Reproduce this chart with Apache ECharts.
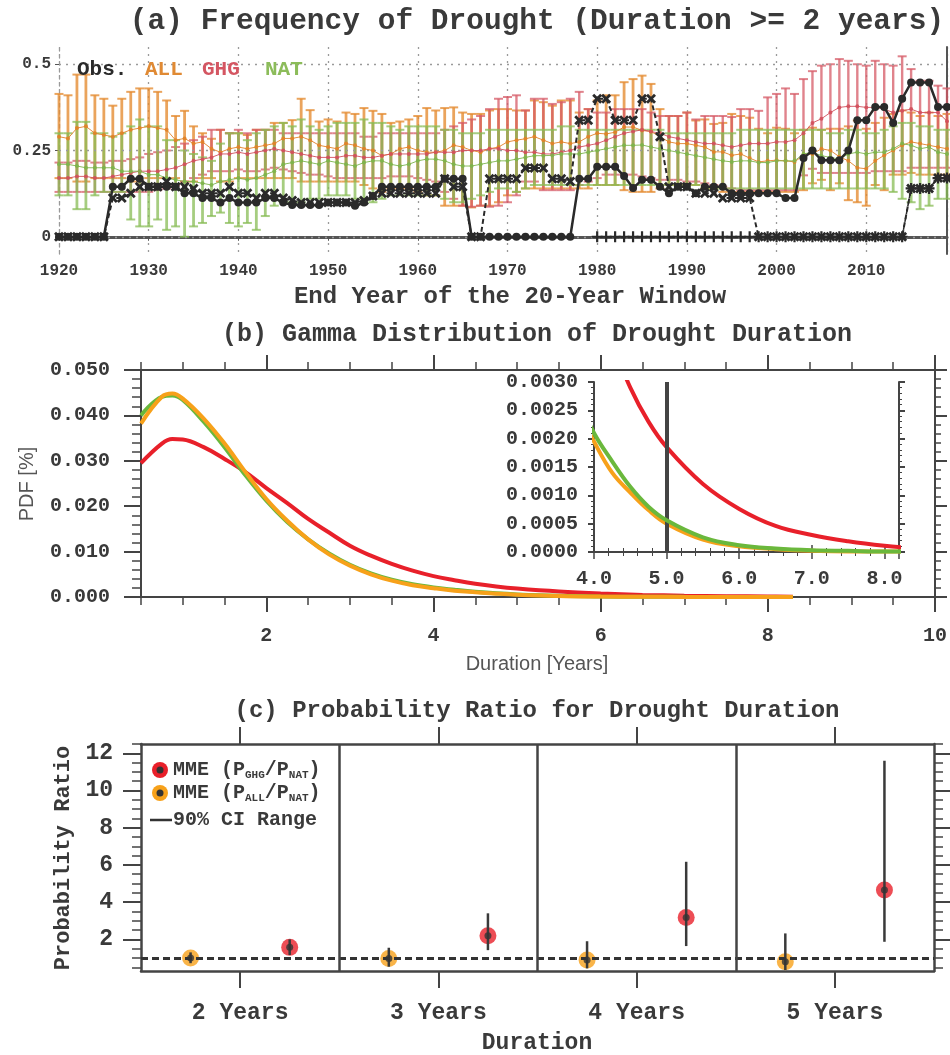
<!DOCTYPE html>
<html><head><meta charset="utf-8">
<script src="https://cdn.jsdelivr.net/npm/echarts@6/dist/echarts.min.js"></script>
<style>html,body{margin:0;padding:0;background:#fff}#c{width:950px;height:1055px}</style>
</head><body><div id="c"></div>
<script>
// ---------- Panel (a) data: years 1920..2019 ----------
const years = Array.from({length: 100}, (_, i) => 1920 + i);
const allMean = [
0.29,0.285,0.315,0.32,0.30,0.295,0.29,0.30,0.31,0.315,
0.32,0.315,0.31,0.28,0.285,0.27,0.275,0.255,0.245,0.255,
0.26,0.255,0.26,0.265,0.27,0.285,0.285,0.29,0.28,0.265,
0.26,0.255,0.27,0.265,0.255,0.25,0.235,0.24,0.255,0.26,
0.25,0.245,0.245,0.25,0.265,0.26,0.25,0.245,0.255,0.26,
0.275,0.28,0.284,0.29,0.28,0.27,0.275,0.27,0.275,0.29,
0.30,0.298,0.303,0.318,0.318,0.308,0.305,0.29,0.275,0.27,
0.27,0.265,0.26,0.246,0.246,0.236,0.24,0.228,0.217,0.22,
0.222,0.22,0.217,0.236,0.24,0.255,0.25,0.232,0.22,0.20,
0.197,0.22,0.236,0.25,0.265,0.275,0.27,0.265,0.26,0.255];
const allHi = [
0.414,0.41,0.47,0.47,0.41,0.40,0.38,0.40,0.42,0.43,
0.43,0.42,0.395,0.35,0.365,0.32,0.30,0.284,0.31,0.30,
0.30,0.295,0.31,0.31,0.33,0.33,0.338,0.40,0.367,0.334,
0.34,0.334,0.36,0.356,0.373,0.365,0.356,0.33,0.334,0.34,
0.35,0.373,0.366,0.373,0.375,0.36,0.356,0.356,0.366,0.37,
0.37,0.366,0.366,0.395,0.39,0.38,0.395,0.395,0.36,0.37,
0.395,0.41,0.41,0.448,0.457,0.467,0.443,0.37,0.35,0.35,
0.36,0.337,0.34,0.327,0.33,0.356,0.35,0.345,0.313,0.30,
0.316,0.313,0.30,0.31,0.316,0.31,0.313,0.313,0.32,0.337,
0.313,0.33,0.345,0.356,0.366,0.36,0.35,0.36,0.35,0.356];
const allLo = [
0.17,0.17,0.16,0.16,0.17,0.17,0.17,0.17,0.16,0.16,
0.17,0.17,0.17,0.17,0.16,0.16,0.17,0.17,0.16,0.16,
0.17,0.17,0.17,0.17,0.17,0.17,0.17,0.16,0.16,0.16,
0.16,0.16,0.16,0.16,0.15,0.14,0.13,0.14,0.14,0.14,
0.13,0.12,0.12,0.09,0.09,0.09,0.085,0.09,0.09,0.10,
0.12,0.13,0.14,0.14,0.14,0.14,0.14,0.14,0.14,0.14,
0.15,0.15,0.15,0.135,0.13,0.13,0.13,0.14,0.15,0.15,
0.15,0.15,0.14,0.14,0.13,0.13,0.13,0.13,0.13,0.13,
0.13,0.13,0.13,0.135,0.155,0.165,0.135,0.155,0.106,0.10,
0.09,0.15,0.135,0.18,0.18,0.185,0.18,0.18,0.18,0.18];
const ghgMean = [
0.17,0.17,0.175,0.175,0.17,0.17,0.175,0.18,0.185,0.19,
0.19,0.19,0.195,0.20,0.21,0.22,0.225,0.23,0.24,0.24,
0.245,0.24,0.245,0.25,0.255,0.25,0.245,0.24,0.235,0.23,
0.23,0.23,0.235,0.235,0.23,0.23,0.235,0.24,0.24,0.24,
0.24,0.24,0.245,0.245,0.245,0.25,0.25,0.25,0.255,0.255,
0.25,0.25,0.245,0.245,0.24,0.24,0.245,0.25,0.26,0.265,
0.27,0.28,0.29,0.30,0.305,0.31,0.305,0.30,0.29,0.285,
0.28,0.275,0.27,0.27,0.265,0.26,0.265,0.27,0.27,0.27,
0.275,0.275,0.28,0.30,0.33,0.342,0.36,0.375,0.378,0.378,
0.375,0.375,0.37,0.36,0.365,0.37,0.36,0.36,0.36,0.335];
const ghgHi = [
0.215,0.215,0.22,0.22,0.215,0.215,0.22,0.22,0.225,0.23,
0.24,0.245,0.25,0.26,0.27,0.28,0.29,0.31,0.31,0.30,
0.31,0.30,0.31,0.31,0.31,0.30,0.30,0.30,0.30,0.30,
0.30,0.30,0.30,0.30,0.29,0.29,0.30,0.30,0.30,0.30,
0.30,0.30,0.30,0.31,0.32,0.33,0.34,0.35,0.37,0.40,
0.405,0.41,0.366,0.40,0.40,0.385,0.39,0.40,0.42,0.37,
0.36,0.36,0.37,0.37,0.37,0.37,0.36,0.35,0.35,0.35,
0.36,0.34,0.35,0.35,0.35,0.347,0.37,0.37,0.365,0.404,
0.414,0.43,0.414,0.457,0.48,0.496,0.50,0.515,0.51,0.50,
0.496,0.51,0.50,0.496,0.523,0.486,0.452,0.452,0.438,0.43];
const ghgLo = [
0.13,0.13,0.13,0.13,0.13,0.13,0.13,0.13,0.13,0.13,
0.13,0.135,0.14,0.15,0.16,0.17,0.18,0.19,0.19,0.19,
0.195,0.19,0.19,0.195,0.20,0.195,0.19,0.185,0.18,0.18,
0.175,0.17,0.17,0.17,0.17,0.17,0.17,0.175,0.175,0.175,
0.17,0.165,0.16,0.13,0.11,0.09,0.087,0.09,0.087,0.09,
0.10,0.12,0.16,0.16,0.135,0.135,0.135,0.135,0.15,0.16,
0.17,0.18,0.18,0.18,0.18,0.175,0.17,0.165,0.165,0.165,
0.16,0.16,0.155,0.15,0.145,0.14,0.135,0.135,0.135,0.135,
0.135,0.135,0.135,0.178,0.197,0.185,0.185,0.185,0.185,0.185,
0.185,0.19,0.19,0.19,0.19,0.20,0.20,0.20,0.20,0.20];
const natMean = [
0.21,0.21,0.205,0.20,0.20,0.20,0.20,0.19,0.19,0.19,
0.18,0.18,0.17,0.165,0.16,0.16,0.155,0.15,0.16,0.165,
0.17,0.165,0.17,0.18,0.19,0.21,0.215,0.22,0.215,0.21,
0.22,0.215,0.21,0.205,0.215,0.22,0.22,0.21,0.205,0.21,
0.22,0.225,0.225,0.22,0.21,0.205,0.205,0.21,0.215,0.22,
0.22,0.225,0.23,0.235,0.235,0.236,0.24,0.24,0.24,0.245,
0.25,0.255,0.26,0.265,0.265,0.266,0.26,0.255,0.25,0.245,
0.24,0.235,0.23,0.225,0.22,0.217,0.22,0.22,0.215,0.215,
0.22,0.22,0.22,0.24,0.245,0.235,0.23,0.225,0.24,0.245,
0.24,0.245,0.245,0.255,0.27,0.265,0.255,0.26,0.245,0.24];
const natHi = [
0.30,0.30,0.333,0.333,0.30,0.30,0.29,0.30,0.32,0.34,
0.32,0.32,0.28,0.28,0.25,0.24,0.23,0.22,0.27,0.30,
0.30,0.28,0.30,0.31,0.32,0.33,0.32,0.34,0.32,0.31,
0.32,0.33,0.33,0.33,0.34,0.33,0.33,0.32,0.31,0.32,
0.32,0.32,0.32,0.31,0.31,0.30,0.30,0.30,0.31,0.31,
0.31,0.31,0.31,0.31,0.31,0.31,0.32,0.32,0.31,0.31,
0.31,0.31,0.31,0.31,0.31,0.31,0.31,0.31,0.30,0.30,
0.30,0.30,0.30,0.30,0.30,0.30,0.31,0.31,0.31,0.31,
0.31,0.31,0.31,0.31,0.31,0.31,0.30,0.30,0.31,0.31,
0.30,0.30,0.31,0.32,0.33,0.33,0.32,0.32,0.31,0.31];
const natLo = [
0.12,0.12,0.08,0.08,0.12,0.13,0.13,0.13,0.05,0.03,
0.03,0.05,0.02,0.03,0.00,0.03,0.04,0.06,0.07,0.04,
0.03,0.04,0.02,0.06,0.09,0.10,0.10,0.10,0.11,0.11,
0.12,0.12,0.12,0.11,0.11,0.10,0.11,0.12,0.12,0.12,
0.12,0.12,0.12,0.11,0.10,0.10,0.11,0.12,0.13,0.14,
0.14,0.13,0.14,0.15,0.15,0.15,0.15,0.15,0.15,0.15,
0.15,0.15,0.15,0.15,0.15,0.15,0.15,0.15,0.15,0.15,
0.15,0.15,0.14,0.14,0.14,0.14,0.14,0.14,0.14,0.14,
0.14,0.14,0.14,0.14,0.14,0.14,0.14,0.14,0.14,0.14,
0.14,0.14,0.14,0.13,0.11,0.10,0.08,0.09,0.11,0.11];
const obsCircle = [
0,0,0,0,0,0,0.145,0.145,0.168,0.168,
0.145,0.145,0.145,0.145,0.126,0.126,0.112,0.112,0.099,0.112,
0.099,0.099,0.099,0.112,0.112,0.099,0.092,0.092,0.092,0.092,
0.099,0.099,0.099,0.09,0.099,0.118,0.145,0.145,0.145,0.145,
0.145,0.145,0.145,0.168,0.168,0.168,0,0,0,0,
0,0,0,0,0,0,0,0,0.168,0.168,
0.203,0.203,0.203,0.176,0.141,0.165,0.165,0.145,0.126,0.145,
0.145,0.126,0.145,0.145,0.145,0.126,0.126,0.126,0.126,0.126,
0.126,0.112,0.112,0.228,0.25,0.222,0.222,0.222,0.25,0.338,
0.338,0.376,0.376,0.33,0.40,0.447,0.447,0.447,0.376,0.376];
const obsCross = [
0,0,0,0,0,0,0.112,0.112,0.126,0.145,
0.145,0.145,0.16,0.145,0.145,0.14,0.126,0.126,0.126,0.145,
0.126,0.126,0.112,0.126,0.126,0.112,0.105,0.099,0.099,0.099,
0.099,0.099,0.099,0.099,0.105,0.118,0.126,0.126,0.126,0.126,
0.126,0.126,0.126,0.168,0.145,0.145,0,0,0.168,0.168,
0.168,0.168,0.199,0.199,0.199,0.168,0.168,0.16,0.338,0.338,
0.40,0.40,0.338,0.338,0.338,0.40,0.40,0.29,0.145,0.145,
0.145,0.126,0.126,0.126,0.112,0.112,0.112,0.112,0,0,
0,0,0,0,0,0,0,0,0,0,
0,0,0,0,0,0.14,0.14,0.14,0.17,0.17];
const plusYears = [1980,1981,1982,1983,1984,1985,1986,1987,1988,1989,1990,1991,1992,1993,1994,1995,1996,1997,1998,1999,2000,2001,2002,2003,2004,2005,2006,2007,2008,2009,2010,2011,2012,2013,2014,2015,2016,2017,2018,2019];
const obsPlus = [0,0,0,0,0,0,0,0,0,0,0,0,0,0,0,0,0,0,0,0,0,0,0,0,0,0,0,0,0,0,0,0,0,0,0,0.14,0.14,0.14,0.17,0.17];
const aYTicks = [0, 0.25, 0.5];
const aYTickLabels = ['0', '0.25', '0.5'];

// ---------- Panel (b) data ----------
const pdfX   = [0.5,0.75,0.875,1,1.25,1.5,1.75,2,2.25,2.5,2.75,3,3.25,3.5,3.75,4,4.25,4.5,4.75,5,5.5,6,6.5,7,7.5,8,8.3];
const pdfGHG = [0.0295,0.0338,0.0348,0.0347,0.0330,0.0304,0.0275,0.0240,0.0207,0.0172,0.0142,0.0113,0.0091,0.0073,0.0058,0.0046,0.0037,0.0029,0.0023,0.00185,0.0012,0.00076,0.00046,0.0003,0.00019,0.00011,0.00008];
const pdfALL = [0.0382,0.0441,0.0448,0.0437,0.0393,0.0338,0.0275,0.0216,0.0168,0.0127,0.0094,0.0069,0.0050,0.0036,0.0026,0.00195,0.0014,0.00105,0.00074,0.0005,0.00022,0.0001,0.00005,0.00002,0.00001,0.00001,0.00001];
const pdfNAT = [0.0400,0.0441,0.0444,0.0434,0.0386,0.0330,0.0268,0.0212,0.0165,0.0127,0.0096,0.0071,0.0052,0.0038,0.0028,0.0021,0.0016,0.00115,0.0008,0.00056,0.00026,0.00012,0.00006,0.00003,0.00002,0.00001,0.00001];
const insetMarkX = 5;

// ---------- Panel (c) data ----------
const durCats = ['2 Years','3 Years','4 Years','5 Years'];
const prAllMid = [1.0, 0.97, 0.89, 0.80];
const prAllLo  = [0.72, 0.53, 0.44, 0.35];
const prAllHi  = [1.30, 1.55, 1.90, 2.32];
const prGhgMid = [1.57, 2.20, 3.18, 4.65];
const prGhgLo  = [1.16, 1.42, 1.64, 1.87];
const prGhgHi  = [2.00, 3.40, 6.17, 11.6];
const cYMajor = [2,4,6,8,10,12];
const cYMinor = [0.5,1,1.5,2.5,3,3.5,4.5,5,5.5,6.5,7,7.5,8.5,9,9.5,10.5,11,11.5,12.5];

// ---------- styling ----------
const MONO = '"Liberation Mono", "DejaVu Sans Mono", monospace';
const SANS = '"Liberation Sans", Arial, sans-serif';
const INK = '#3a3a3a';
const AX = '#444';
const C_ALL = 'rgba(228,138,48,0.78)', C_GHG = 'rgba(214,90,102,0.75)', C_NAT = 'rgba(136,188,86,0.75)';
const L_RED = '#e8202a', L_ORG = '#f7a11a', L_GRN = '#6ab83c';

function near(a, b) { return Math.abs(a - b) < 1e-6; }

function errBars(lo, hi, color, z, lw) {
  return {
    type: 'custom', xAxisIndex: 0, yAxisIndex: 0, z: z, silent: true,
    data: years.map((y, i) => [y, lo[i], hi[i]]),
    encode: {x: 0, y: [1, 2]},
    renderItem: (params, api) => {
      const x = api.value(0);
      const p1 = api.coord([x, api.value(1)]);
      const p2 = api.coord([x, api.value(2)]);
      const w = 4.5;
      return {type: 'group', children: [
        {type: 'line', shape: {x1: p1[0], y1: p1[1], x2: p2[0], y2: p2[1]}, style: {stroke: color, lineWidth: lw}},
        {type: 'line', shape: {x1: p1[0]-w, y1: p1[1], x2: p1[0]+w, y2: p1[1]}, style: {stroke: color, lineWidth: 2}},
        {type: 'line', shape: {x1: p2[0]-w, y1: p2[1], x2: p2[0]+w, y2: p2[1]}, style: {stroke: color, lineWidth: 2}}
      ]};
    }
  };
}
function meanLine(vals, color, z) {
  return {type: 'line', xAxisIndex: 0, yAxisIndex: 0, z: z, silent: true,
    data: years.map((y, i) => [y, vals[i]]),
    symbol: 'circle', symbolSize: 4, itemStyle: {color: color},
    lineStyle: {color: color, width: 1}};
}
const X_PATH = 'path://M2,0L5,3L8,0L10,2L7,5L10,8L8,10L5,7L2,10L0,8L3,5L0,2Z';
const PLUS_PATH = 'path://M4,0H6V4H10V6H6V10H4V6H0V4H4Z';

function vTickAxis(grid, pos, opts) {
  return Object.assign({gridIndex: grid, position: pos, type: 'value',
    axisLine: {show: false}, axisLabel: {show: false}, splitLine: {show: false}}, opts);
}

const xAxes = [
  {gridIndex: 0, type: 'value', min: 1920, max: 2019, interval: 10, position: 'bottom',
   axisLine: {lineStyle: {color: '#555', width: 3}},
   axisTick: {show: true, length: 4, lineStyle: {color: '#555'}},
   axisLabel: {color: INK, fontFamily: MONO, fontWeight: 'bold', fontSize: 16, margin: 9,
     formatter: v => (v % 10 === 0 ? String(v) : '')},
   splitLine: {show: true, lineStyle: {color: '#9a9a9a', type: [2, 5], width: 1.3}}},
  {gridIndex: 0, type: 'value', min: 1920, max: 2019, position: 'top',
   axisLine: {lineStyle: {color: '#555', width: 2}}, axisTick: {show: false}, axisLabel: {show: false}, splitLine: {show: false}},
  {gridIndex: 1, type: 'value', min: 0.5, max: 10, interval: 0.5, position: 'bottom',
   axisLine: {lineStyle: {color: AX, width: 2}},
   axisTick: {length: 8, lineStyle: {color: AX, width: 1.5}},
   axisLabel: {color: INK, fontFamily: MONO, fontWeight: 'bold', fontSize: 20, margin: 29,
     formatter: v => (near(v % 2, 0) ? String(Math.round(v)) : '')},
   splitLine: {show: false}},
  vTickAxis(1, 'bottom', {min: 0.5, max: 10, axisTick: {length: 15, customValues: [2,4,6,8,10], lineStyle: {color: AX, width: 2}}}),
  {gridIndex: 1, type: 'value', min: 0.5, max: 10, interval: 0.5, position: 'top',
   axisLine: {lineStyle: {color: AX, width: 2}}, axisTick: {length: 8, lineStyle: {color: AX, width: 1.5}},
   axisLabel: {show: false}, splitLine: {show: false}},
  vTickAxis(1, 'top', {min: 0.5, max: 10, axisTick: {length: 15, customValues: [2,4,6,8,10], lineStyle: {color: AX, width: 2}}}),
  {gridIndex: 2, type: 'value', min: 4, max: 8.2, interval: 1, position: 'bottom',
   axisLine: {lineStyle: {color: AX, width: 2}},
   axisTick: {inside: true, length: 7, lineStyle: {color: AX, width: 1.5}},
   minorTick: {show: true, splitNumber: 5, length: 4, lineStyle: {color: AX}},
   axisLabel: {color: INK, fontFamily: MONO, fontWeight: 'bold', fontSize: 20, margin: 17,
     formatter: v => (near(v, Math.round(v)) ? v.toFixed(1) : '')},
   splitLine: {show: false}},
  {gridIndex: 2, type: 'value', min: 4, max: 8.2, interval: 1, position: 'top',
   axisLine: {lineStyle: {color: AX, width: 2}},
   axisTick: {inside: true, length: 7, lineStyle: {color: AX, width: 1.5}},
   minorTick: {show: true, splitNumber: 5, length: 4, lineStyle: {color: AX}},
   axisLabel: {show: false}, splitLine: {show: false}},
  {gridIndex: 3, type: 'value', min: 0.5, max: 4.5, position: 'bottom',
   axisLine: {lineStyle: {color: AX, width: 2.5}},
   axisTick: {length: 17, customValues: [1,2,3,4], lineStyle: {color: AX, width: 2}},
   axisLabel: {customValues: [1,2,3,4], color: INK, fontFamily: MONO, fontWeight: 'bold', fontSize: 23, margin: 31,
     formatter: v => durCats[Math.round(v) - 1] || ''},
   splitLine: {show: false}},
  {gridIndex: 3, type: 'value', min: 0.5, max: 4.5, position: 'top',
   axisLine: {lineStyle: {color: AX, width: 2.5}},
   axisTick: {length: 17, customValues: [1,2,3,4], lineStyle: {color: AX, width: 2}},
   axisLabel: {show: false}, splitLine: {show: false}}
];

const yAxes = [
  {gridIndex: 0, type: 'value', min: -0.05, max: 0.55, position: 'left',
   axisLine: {show: true, lineStyle: {color: '#9a9a9a', type: [2, 5], width: 1.3}},
   axisTick: {show: true, customValues: aYTicks, length: 4, lineStyle: {color: '#555'}},
   axisLabel: {customValues: aYTicks, color: INK, fontFamily: MONO, fontWeight: 'bold', fontSize: 16, margin: 8,
     formatter: v => { for (let i = 0; i < aYTicks.length; i++) if (near(v, aYTicks[i])) return aYTickLabels[i]; return ''; }},
   splitLine: {show: false}},
  {gridIndex: 0, type: 'value', min: -0.05, max: 0.55, position: 'right',
   axisLine: {lineStyle: {color: '#555', width: 2}}, axisTick: {show: false}, axisLabel: {show: false}, splitLine: {show: false}},
  {gridIndex: 1, type: 'value', min: 0, max: 0.05, interval: 0.01, position: 'left',
   axisLine: {lineStyle: {color: AX, width: 2}},
   axisTick: {length: 17, lineStyle: {color: AX, width: 2}},
   minorTick: {show: true, splitNumber: 5, length: 9, lineStyle: {color: AX, width: 1.5}},
   axisLabel: {color: INK, fontFamily: MONO, fontWeight: 'bold', fontSize: 20, margin: 31, formatter: v => v.toFixed(3)},
   splitLine: {show: false}},
  {gridIndex: 1, type: 'value', min: 0, max: 0.05, interval: 0.01, position: 'right',
   axisLine: {lineStyle: {color: AX, width: 2}},
   axisTick: {length: 12, lineStyle: {color: AX, width: 2}},
   minorTick: {show: true, splitNumber: 5, length: 6, lineStyle: {color: AX, width: 1.5}},
   axisLabel: {show: false}, splitLine: {show: false}},
  {gridIndex: 2, type: 'value', min: 0, max: 0.003, interval: 0.0005, position: 'left',
   axisLine: {lineStyle: {color: AX, width: 2}},
   axisTick: {length: 6, lineStyle: {color: AX, width: 2}},
   minorTick: {show: true, splitNumber: 5, length: 3, lineStyle: {color: AX}},
   axisLabel: {color: INK, fontFamily: MONO, fontWeight: 'bold', fontSize: 20, margin: 16, formatter: v => v.toFixed(4)},
   splitLine: {show: false}},
  {gridIndex: 2, type: 'value', min: 0, max: 0.003, interval: 0.0005, position: 'right',
   axisLine: {lineStyle: {color: AX, width: 2}},
   axisTick: {length: 6, lineStyle: {color: AX, width: 2}},
   minorTick: {show: true, splitNumber: 5, length: 3, lineStyle: {color: AX}},
   axisLabel: {show: false}, splitLine: {show: false}},
  {gridIndex: 3, type: 'value', min: 0.3, max: 12.5, position: 'left',
   axisLine: {lineStyle: {color: AX, width: 2.5}},
   axisTick: {length: 18, customValues: cYMajor, lineStyle: {color: AX, width: 2}},
   axisLabel: {customValues: cYMajor, color: INK, fontFamily: MONO, fontWeight: 'bold', fontSize: 23, margin: 28},
   splitLine: {show: false}},
  vTickAxis(3, 'left', {min: 0.3, max: 12.5, axisTick: {length: 9, customValues: cYMinor, lineStyle: {color: AX, width: 1.5}}}),
  {gridIndex: 3, type: 'value', min: 0.3, max: 12.5, position: 'right',
   axisLine: {lineStyle: {color: AX, width: 2.5}},
   axisTick: {length: 18, customValues: cYMajor, lineStyle: {color: AX, width: 2}},
   axisLabel: {show: false}, splitLine: {show: false}},
  vTickAxis(3, 'right', {min: 0.3, max: 12.5, axisTick: {length: 9, customValues: cYMinor, lineStyle: {color: AX, width: 1.5}}})
];

function pdfLine(vals, color, xi, yi, z, extra) {
  return Object.assign({type: 'line', xAxisIndex: xi, yAxisIndex: yi, z: z, silent: true,
    data: pdfX.map((x, i) => [x, vals[i]]), symbol: 'none', smooth: 0.4,
    lineStyle: {color: color, width: 4}, clip: true}, extra || {});
}

const series = [
  errBars(allLo, allHi, C_ALL, 2, 2.8),
  errBars(ghgLo, ghgHi, C_GHG, 3, 2.4),
  errBars(natLo, natHi, C_NAT, 4, 2.8),
  meanLine(allMean, 'rgba(225,130,40,0.9)', 5),
  meanLine(ghgMean, 'rgba(210,80,92,0.9)', 5),
  meanLine(natMean, 'rgba(125,180,75,0.9)', 5),
  {type: 'line', xAxisIndex: 0, yAxisIndex: 0, z: 1, silent: true, data: [], symbol: 'none',
   markLine: {silent: true, symbol: 'none', label: {show: false},
     lineStyle: {color: '#9a9a9a', type: [2, 5], width: 1.3},
     data: aYTicks.map(v => ({yAxis: v}))}},
  {type: 'line', xAxisIndex: 0, yAxisIndex: 0, z: 8, silent: true,
   data: years.map((y, i) => [y, obsCross[i]]),
   symbol: X_PATH, symbolSize: 10, itemStyle: {color: '#2a2a2a'},
   lineStyle: {color: '#2a2a2a', width: 2, type: [5, 3]}},
  {type: 'line', xAxisIndex: 0, yAxisIndex: 0, z: 8, silent: true,
   data: plusYears.map((y, i) => [y, obsPlus[i]]),
   symbol: PLUS_PATH, symbolSize: 11, itemStyle: {color: '#2a2a2a'},
   lineStyle: {color: '#2a2a2a', width: 1.5, type: [5, 3]}},
  {type: 'line', xAxisIndex: 0, yAxisIndex: 0, z: 9, silent: true,
   data: years.map((y, i) => [y, obsCircle[i]]),
   symbol: 'circle', symbolSize: 8, itemStyle: {color: '#2a2a2a'},
   lineStyle: {color: '#2a2a2a', width: 2.5}},

  pdfLine(pdfGHG, L_RED, 2, 2, 3),
  pdfLine(pdfNAT, L_GRN, 2, 2, 4),
  pdfLine(pdfALL, L_ORG, 2, 2, 5),
  pdfLine(pdfGHG, L_RED, 6, 4, 3),
  pdfLine(pdfALL, L_ORG, 6, 4, 4),
  pdfLine(pdfNAT, L_GRN, 6, 4, 5, {
    markLine: {silent: true, symbol: 'none', label: {show: false},
      lineStyle: {color: '#444', type: 'solid', width: 4}, data: [{xAxis: insetMarkX}]}}),

  {type: 'line', xAxisIndex: 8, yAxisIndex: 6, z: 1, silent: true, data: [], symbol: 'none',
   markLine: {silent: true, symbol: 'none', label: {show: false},
     data: [
       {yAxis: 1, lineStyle: {color: '#333', type: [7, 4], width: 3}},
       {xAxis: 1.5, lineStyle: {color: AX, type: 'solid', width: 2.5}},
       {xAxis: 2.5, lineStyle: {color: AX, type: 'solid', width: 2.5}},
       {xAxis: 3.5, lineStyle: {color: AX, type: 'solid', width: 2.5}}
     ]}},
  {type: 'scatter', xAxisIndex: 8, yAxisIndex: 6, z: 3, silent: true,
   data: prAllMid.map((v, i) => [i + 1 - 0.25, v]), symbolSize: 17, itemStyle: {color: L_ORG}},
  {type: 'scatter', xAxisIndex: 8, yAxisIndex: 6, z: 3, silent: true,
   data: prGhgMid.map((v, i) => [i + 1 + 0.25, v]), symbolSize: 17, itemStyle: {color: L_RED}},
  {type: 'custom', xAxisIndex: 8, yAxisIndex: 6, z: 4, silent: true,
   data: prAllLo.map((v, i) => [i + 1 - 0.25, v, prAllHi[i]]).concat(prGhgLo.map((v, i) => [i + 1 + 0.25, v, prGhgHi[i]])),
   encode: {x: 0, y: [1, 2]},
   renderItem: (params, api) => {
     const p1 = api.coord([api.value(0), api.value(1)]);
     const p2 = api.coord([api.value(0), api.value(2)]);
     return {type: 'line', shape: {x1: p1[0], y1: p1[1], x2: p2[0], y2: p2[1]}, style: {stroke: '#3a3a3a', lineWidth: 2.5}};
   }},
  {type: 'scatter', xAxisIndex: 8, yAxisIndex: 6, z: 5, silent: true,
   data: prAllMid.map((v, i) => [i + 1 - 0.25, v]).concat(prGhgMid.map((v, i) => [i + 1 + 0.25, v])),
   symbolSize: 7, itemStyle: {color: '#333'}}
];

function txt(x, y, text, size, opts) {
  return Object.assign({type: 'text', x: x, y: y, silent: true, z: 100,
    style: Object.assign({text: text, fill: INK, font: 'bold ' + size + 'px ' + MONO,
      align: 'center', verticalAlign: 'middle', textAlign: 'center', textVerticalAlign: 'middle'}, (opts && opts.style) || {})},
    opts && opts.rotation ? {rotation: opts.rotation} : {});
}
const subRich = {s: {font: 'bold 11px ' + MONO, fill: INK, verticalAlign: 'bottom', padding: [10, 0, 0, 0]}};

const graphic = [
  txt(537, 22, '(a) Frequency of Drought (Duration >= 2 years)', 29.5),
  txt(510, 297, 'End Year of the 20-Year Window', 24),
  txt(77, 70, 'Obs.', 21, {style: {align: 'left', textAlign: 'left', fill: '#2a2a2a'}}),
  txt(145, 70, 'ALL', 21, {style: {align: 'left', textAlign: 'left', fill: '#e08a34'}}),
  txt(202, 70, 'GHG', 21, {style: {align: 'left', textAlign: 'left', fill: '#d45662'}}),
  txt(265, 70, 'NAT', 21, {style: {align: 'left', textAlign: 'left', fill: '#8cbc5a'}}),
  txt(537, 335, '(b) Gamma Distribution of Drought Duration', 25),
  {type: 'text', x: 27, y: 484, rotation: Math.PI / 2, silent: true, z: 100,
   style: {text: 'PDF [%]', fill: '#555', font: '20px ' + SANS, align: 'center', verticalAlign: 'middle', textAlign: 'center', textVerticalAlign: 'middle'}},
  {type: 'text', x: 537, y: 664, silent: true, z: 100,
   style: {text: 'Duration [Years]', fill: '#555', font: '20px ' + SANS, align: 'center', verticalAlign: 'middle', textAlign: 'center', textVerticalAlign: 'middle'}},
  txt(537, 711, '(c) Probability Ratio for Drought Duration', 24),
  txt(537, 1043, 'Duration', 23),
  txt(63, 858, 'Probability Ratio', 22, {rotation: Math.PI / 2}),
  {type: 'circle', shape: {cx: 160, cy: 770, r: 8}, style: {fill: L_RED}, z: 100, silent: true},
  {type: 'circle', shape: {cx: 160, cy: 770, r: 3.5}, style: {fill: '#333'}, z: 101, silent: true},
  {type: 'circle', shape: {cx: 160, cy: 793, r: 8}, style: {fill: L_ORG}, z: 100, silent: true},
  {type: 'circle', shape: {cx: 160, cy: 793, r: 3.5}, style: {fill: '#333'}, z: 101, silent: true},
  {type: 'line', shape: {x1: 150, y1: 820, x2: 172, y2: 820}, style: {stroke: '#333', lineWidth: 2.5}, z: 100, silent: true},
  {type: 'text', x: 173, y: 770, silent: true, z: 100,
   style: {text: 'MME (P{s|GHG}/P{s|NAT})', rich: subRich, fill: INK, font: 'bold 20px ' + MONO, align: 'left', verticalAlign: 'middle', textAlign: 'left', textVerticalAlign: 'middle'}},
  {type: 'text', x: 173, y: 793, silent: true, z: 100,
   style: {text: 'MME (P{s|ALL}/P{s|NAT})', rich: subRich, fill: INK, font: 'bold 20px ' + MONO, align: 'left', verticalAlign: 'middle', textAlign: 'left', textVerticalAlign: 'middle'}},
  txt(173, 820, '90% CI Range', 20, {style: {align: 'left', textAlign: 'left'}})
];

const chart = echarts.init(document.getElementById('c'), null, {renderer: 'canvas'});
chart.setOption({
  animation: false,
  backgroundColor: '#fff',
  grid: [
    {left: 59, top: 47, width: 889, height: 207},
    {left: 141, top: 370, width: 794, height: 227},
    {left: 594, top: 382, width: 305, height: 170},
    {left: 141, top: 744, width: 793, height: 227}
  ],
  xAxis: xAxes,
  yAxis: yAxes,
  series: series,
  graphic: graphic
});
</script></body></html>
